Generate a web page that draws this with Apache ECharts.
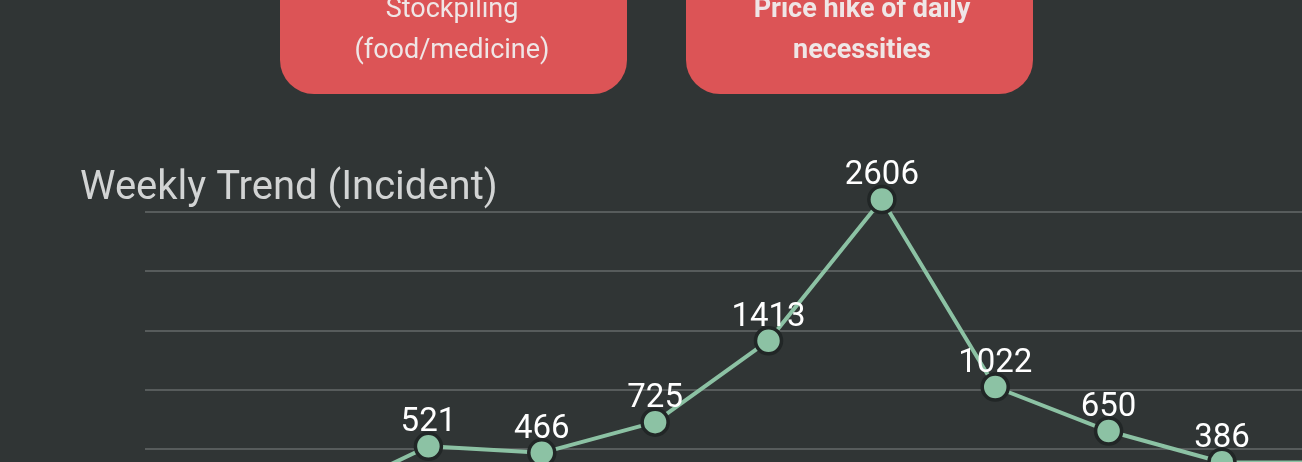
<!DOCTYPE html>
<html>
<head>
<meta charset="utf-8">
<style>
html,body{margin:0;padding:0;background:#303535;}
#chart{width:1302px;height:462px;}
</style>
<script src="https://cdn.jsdelivr.net/npm/echarts@6/dist/echarts.min.js"></script>
</head>
<body>
<div id="chart"></div>
<script>
const weeks = ['W1','W2','W3','W4','W5','W6','W7','W8','W9','W10','W11'];
const incidents = [30, 65, 521, 466, 725, 1413, 2606, 1022, 650, 386, 383];
const hiddenLabelWeeks = ['W1','W2'];
const yTicks = [0, 500, 1000, 1500, 2000, 2500];
const chartTitle = 'Weekly Trend (Incident)';
const boxTexts = ['Stockpiling\n(food/medicine)', 'Price hike of daily\nnecessities'];

const chart = echarts.init(document.getElementById('chart'), null, {renderer: 'canvas'});
const font = 'Roboto, "Noto Sans", sans-serif';

const seriesData = incidents.map((v, i) => hiddenLabelWeeks.includes(weeks[i])
  ? {value: v, label: {show: false}}
  : v);

chart.setOption({
  backgroundColor: '#303535',
  animation: false,
  title: {
    text: chartTitle,
    left: 75,
    top: 164,
    textStyle: {color: '#d2d4d4', fontSize: 40, fontWeight: 'normal', fontFamily: font}
  },
  graphic: [
    {type: 'rect', shape: {x: 280, y: -120, width: 347, height: 214, r: 34}, style: {fill: '#dc5456'}},
    {type: 'rect', shape: {x: 686, y: -120, width: 347, height: 214, r: 34}, style: {fill: '#dc5456'}},
    {type: 'text', x: 452, y: 31, style: {text: boxTexts[0], fill: '#efe6e6', font: 'normal 27px ' + font, align: 'center', verticalAlign: 'middle', lineHeight: 41}},
    {type: 'text', x: 862, y: 31, style: {text: boxTexts[1], fill: '#efe6e6', font: 'bold 27px ' + font, align: 'center', verticalAlign: 'middle', lineHeight: 41}}
  ],
  grid: {left: 145, top: 212, height: 296, right: -90, outerBoundsMode: 'none', containLabel: false},
  xAxis: {
    type: 'category',
    data: weeks,
    boundaryGap: true,
    axisLine: {show: false},
    axisTick: {show: false},
    axisLabel: {show: false}
  },
  yAxis: {
    type: 'value',
    min: yTicks[0],
    max: yTicks[yTicks.length - 1],
    interval: 500,
    axisLabel: {show: false},
    axisLine: {show: false},
    axisTick: {show: false},
    splitLine: {lineStyle: {color: '#575c5c', width: 2}}
  },
  series: [{
    type: 'line',
    data: seriesData,
    clip: false,
    symbol: 'circle',
    symbolSize: 26,
    lineStyle: {color: '#8cc2a4', width: 4},
    itemStyle: {color: '#8cc2a4', borderColor: '#212626', borderWidth: 3.5},
    label: {
      show: true,
      position: 'top',
      distance: -8,
      color: '#ffffff',
      fontSize: 33,
      fontFamily: font
    }
  }]
});
</script>
</body>
</html>
